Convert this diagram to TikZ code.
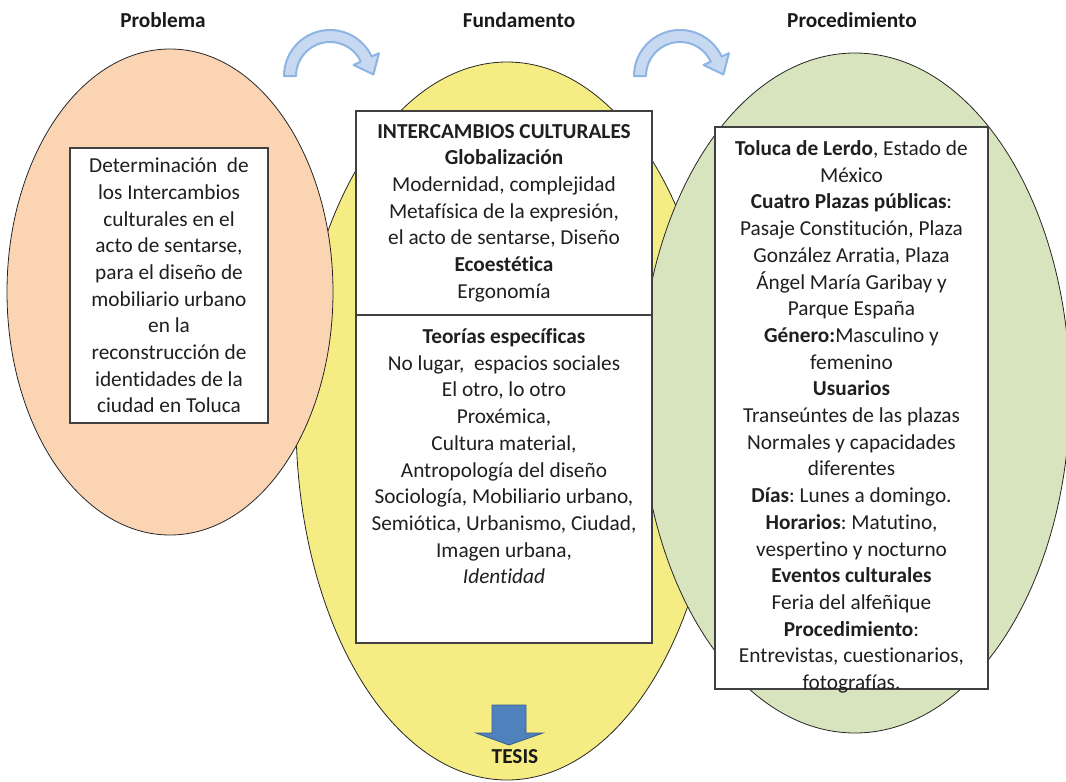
\documentclass[tikz,border=0pt]{standalone}
\usepackage{fontspec}
\setmainfont{Carlito}[Ligatures=NoCommon]
\usetikzlibrary{positioning}
\frenchspacing

\definecolor{durazno}{HTML}{FBD4B4}
\definecolor{amarillo}{HTML}{F6EC84}
\definecolor{verde}{HTML}{D7E4BD}
\definecolor{azulclaro}{HTML}{C6D9F1}
\definecolor{azulborde}{HTML}{8EB4E3}
\definecolor{azul}{HTML}{4F81BD}
\definecolor{azuloscuro}{HTML}{385D8A}

\begin{document}
\begin{tikzpicture}[x=1pt,y=-1pt,
    texto/.style={font=\fontsize{21.3}{26.7}\selectfont, text=black!88, align=center, inner sep=0pt},
    caja/.style={draw=black!75, line width=1.2pt, fill=white, inner sep=0pt},
    titulo/.style={font=\fontsize{21.3}{26.7}\selectfont\bfseries, text=black!90, inner sep=0pt},
    elipse/.style={draw=black!85, line width=0.8pt},
    flecha/.style={fill=azulclaro, draw=azulborde, line width=2pt, line join=round}]

            \useasboundingbox (0,0) rectangle (1066,782);

            % elipses
            \filldraw[elipse, fill=amarillo] (507,421) ellipse [x radius=211, y radius=359];
            \filldraw[elipse, fill=durazno] (170,292) ellipse [x radius=163, y radius=243];
            \filldraw[elipse, fill=verde] (855,393) ellipse [x radius=215, y radius=340];

            \node[titulo] (problema) at (163,20) {Problema};
            \node[titulo] (fundamento) at (519,20) {Fundamento};
            \node[titulo] (procedimiento) at (852,20) {Procedimiento};

            % flechas curvas
            \foreach \dx in {0,350} {
                \begin{scope}[shift={(330+\dx,76)}]
                    \filldraw[flecha] (180:46) arc[start angle=180, end angle=335, radius=46]
                        -- (335:54) -- ([shift={(65:17)}]335:40) -- (335:26) -- (335:34)
                        arc[start angle=335, end angle=180, radius=34] -- cycle;
                \end{scope}
            }

            \node[caja, minimum width=198pt, minimum height=275pt] (cajaprob) at (169,285.5) {};
            \node[texto] (txtprob) at (cajaprob.center) {Determinación~ de\\los Intercambios\\culturales en el\\acto de sentarse,\\para el diseño de\\mobiliario urbano\\en la\\reconstrucción de\\identidades de la\\ciudad en Toluca};

            \node[caja, minimum width=296pt, minimum height=204pt] (cajafund) at (504,213) {};
            \node[texto] (txtfund) at (cajafund.center) {\textbf{INTERCAMBIOS CULTURALES}\\\textbf{Globalización}\\Modernidad, complejidad\\Metafísica de la expresión,\\el acto de sentarse, Diseño\\\textbf{Ecoestética}\\Ergonomía};

            \node[caja, minimum width=296pt, minimum height=328pt] (cajateo) at (504,479) {};
            \node[texto, anchor=north] (txtteo) at ([yshift=-14pt]cajateo.north) {\textbf{Teorías específicas}\\No lugar,~ espacios sociales\\El otro, lo otro\\Proxémica,\\Cultura material,\\Antropología del diseño\\Sociología, Mobiliario urbano,\\Semiótica, Urbanismo, Ciudad,\\Imagen urbana,\\\textit{Identidad}};

            \node[caja, minimum width=273pt, minimum height=562pt] (cajaproc) at (851.5,408) {};
            \node[texto, anchor=north] (txtproc) at ([yshift=-14pt]cajaproc.north) {\textbf{Toluca de Lerdo}, Estado de\\México\\\textbf{Cuatro Plazas públicas}:\\Pasaje Constitución, Plaza\\González Arratia, Plaza\\Ángel María Garibay y\\Parque España\\\textbf{Género:}Masculino y\\femenino\\\textbf{Usuarios}\\Transeúntes de las plazas\\Normales y capacidades\\diferentes\\\textbf{Días}: Lunes a domingo.\\\textbf{Horarios}: Matutino,\\vespertino y nocturno\\\textbf{Eventos culturales}\\Feria del alfeñique\\\textbf{Procedimiento}:\\Entrevistas, cuestionarios,\\fotografías.};

            % tesis
            \node[titulo] (tesis) at (515,757) {TESIS};
            \filldraw[fill=azul, draw=azuloscuro, line width=0.8pt] (492,705) -- (526,705) -- (526,733) -- (543,733)
                -- (509,745) -- (476,733) -- (492,733) -- cycle;

\end{tikzpicture}
\end{document}
